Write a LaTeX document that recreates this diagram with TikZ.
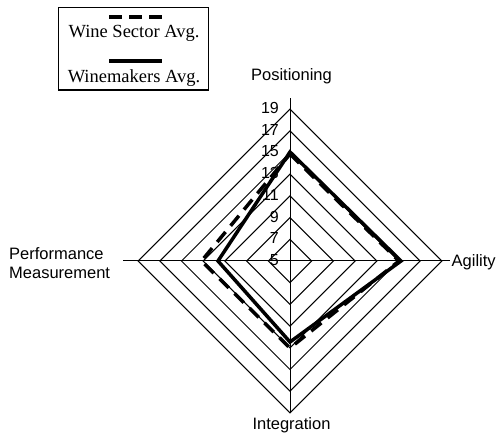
\documentclass[tikz,border=0pt]{standalone}
\usepackage{fontspec}
\setmainfont{Liberation Serif}
\setsansfont{Liberation Sans}
\begin{document}
\begin{tikzpicture}[x=1pt,y=-1pt,
  grid/.style={line width=1pt, black},
  sector/.style={line width=3.5pt, dash pattern=on 13pt off 8pt, line join=miter},
  makers/.style={line width=3.5pt, line join=miter},
  axlab/.style={font=\sffamily\fontsize{16.5}{19}\selectfont, inner sep=0pt},
  ticklab/.style={font=\sffamily\fontsize{16}{18}\selectfont, anchor=east, inner sep=0pt},
  legtext/.style={font=\fontsize{18.5}{21}\selectfont, inner sep=0pt},
  legline/.style={line width=4pt}]
\useasboundingbox (0,0) rectangle (496,435);
\coordinate (C) at (290,261);
% spokes
\coordinate (Atop) at (290,98);
\coordinate (Aright) at (450,261);
\coordinate (Abot) at (290,413);
\coordinate (Aleft) at (123,261);
\draw[grid] (C) -- (Atop);
\draw[grid] (C) -- (Aright);
\draw[grid] (C) -- (Abot);
\draw[grid] (C) -- (Aleft);
% rings
\foreach \v in {7,9,...,19}{
  \pgfmathsetmacro\r{(\v-5)*10.85}
  \draw[grid] ([shift={(0,-\r)}]C) -- ([shift={(\r,0)}]C) -- ([shift={(0,\r)}]C) -- ([shift={(-\r,0)}]C) -- cycle;
}
% tick labels
\foreach \v in {5,7,...,19}{
  \pgfmathsetmacro\r{(\v-5)*10.85}
  \node[ticklab] (t\v) at ([shift={(-11,-\r-1)}]C) {\v};
}
% data
\draw[sector] ([shift={(0,-107)}]C) -- ([shift={(109,0)}]C) -- ([shift={(0,87)}]C) -- ([shift={(-88.5,0)}]C) -- cycle;
\draw[makers] ([shift={(0,-109)}]C) -- ([shift={(111,0)}]C) -- ([shift={(0,81)}]C) -- ([shift={(-72,0)}]C) -- cycle;
% axis labels
\node[axlab] (pos) at (291.5,76) {Positioning};
\node[axlab, anchor=west] (agi) at (451.5,262) {Agility};
\node[axlab] (int) at (291.5,425) {Integration};
\node[axlab, anchor=west, align=left] (perf) at (9,263) {Performance\\Measurement};
% legend
\draw[line width=1.2pt] (58.5,7.5) rectangle (208.5,90);
\coordinate (ls1) at (109,16.7);
\coordinate (le1) at (162,16.7);
\coordinate (ls2) at (109,61);
\coordinate (le2) at (162,61);
\draw[legline, dash pattern=on 13.3pt off 6.7pt] (ls1) -- (le1);
\node[legtext] (lt1) at (134,33) {Wine Sector Avg.};
\draw[legline] (ls2) -- (le2);
\node[legtext] (lt2) at (134,78) {Winemakers Avg.};
\end{tikzpicture}
\end{document}
